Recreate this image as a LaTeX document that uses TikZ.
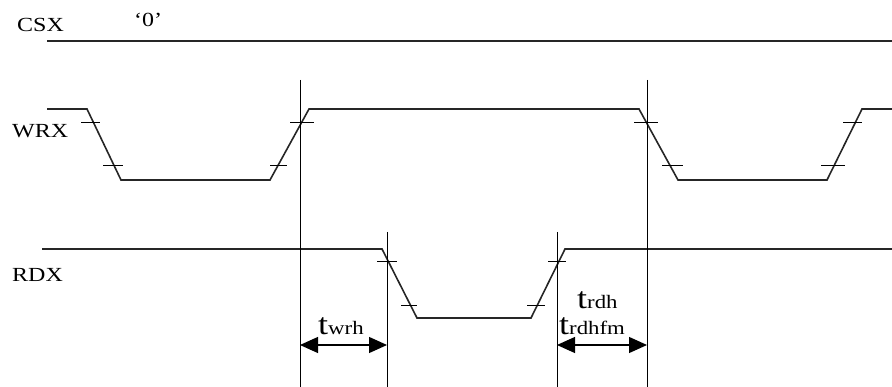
\documentclass[tikz,border=0pt]{standalone}
\usepackage{fontspec}
\setmainfont[FakeStretch=1.2]{Liberation Serif}
\usetikzlibrary{arrows.meta}
\tikzset{
  sig/.style={line width=1.6pt,line join=miter,black!85},
  mark line/.style={line width=1pt},
  tick/.style={line width=1pt},
  lbl/.style={inner sep=0pt,anchor=base west,font=\fontsize{20}{22}\selectfont},
  dim/.style={line width=1.2pt,{Triangle[length=18pt,width=16pt]}-{Triangle[length=18pt,width=16pt]}}
}
\newcommand{\tlbl}[1]{{\fontsize{30}{30}\selectfont t}{\fontsize{19}{20}\selectfont #1}}
\begin{document}
\begin{tikzpicture}[x=1pt,y=-1pt]
\useasboundingbox (0,0) rectangle (892,387);
% labels
\node[lbl] (csx) at (17,32) {CSX};
\node[lbl] (zero) at (134,27) {‘0’};
\node[lbl] (wrx) at (12,138) {WRX};
\node[lbl] (rdx) at (12,282) {RDX};
% CSX
\draw[sig] (47,41) -- (892,41);
% WRX
\draw[sig] (47,109) -- (87,109) -- (121,180) -- (270,180) -- (309,109)
  -- (639,109) -- (678,180) -- (827,180) -- (862,109) -- (892,109);
\draw[tick] (81,123) -- (100,123);
\draw[tick] (103,166) -- (123,166);
\draw[tick] (270,166) -- (287,166);
\draw[tick] (290,123) -- (314,123);
\draw[tick] (634,123) -- (658,123);
\draw[tick] (662,166) -- (683,166);
\draw[tick] (821,166) -- (845,166);
\draw[tick] (843,123) -- (862,123);
% RDX
\draw[sig] (42,249) -- (382,249) -- (417,318) -- (531,318) -- (565,249) -- (892,249);
\draw[tick] (377,262) -- (397,262);
\draw[tick] (401,306) -- (417,306);
\draw[tick] (527,306) -- (545,306);
\draw[tick] (548,262) -- (566,262);
% timing marks
\coordinate (v1t) at (300,80);
\coordinate (v1b) at (300,387);
\coordinate (v2t) at (387,232);
\coordinate (v2b) at (387,387);
\coordinate (v3t) at (557,232);
\coordinate (v3b) at (557,387);
\coordinate (v4t) at (647,80);
\coordinate (v4b) at (647,387);
\draw[mark line] (v1t) -- (v1b);
\draw[mark line] (v2t) -- (v2b);
\draw[mark line] (v3t) -- (v3b);
\draw[mark line] (v4t) -- (v4b);
\coordinate (a1) at (300,345);
\coordinate (a2) at (387,345);
\coordinate (a3) at (557,345);
\coordinate (a4) at (647,345);
\draw[dim] (a1) -- (a2);
\draw[dim] (a3) -- (a4);
\node[lbl] (twrh) at (318,335) {\tlbl{wrh}};
\node[lbl] (trdh) at (577,309) {\tlbl{rdh}};
\node[lbl] (trdhfm) at (559,335) {\tlbl{rdhfm}};
\end{tikzpicture}
\end{document}
